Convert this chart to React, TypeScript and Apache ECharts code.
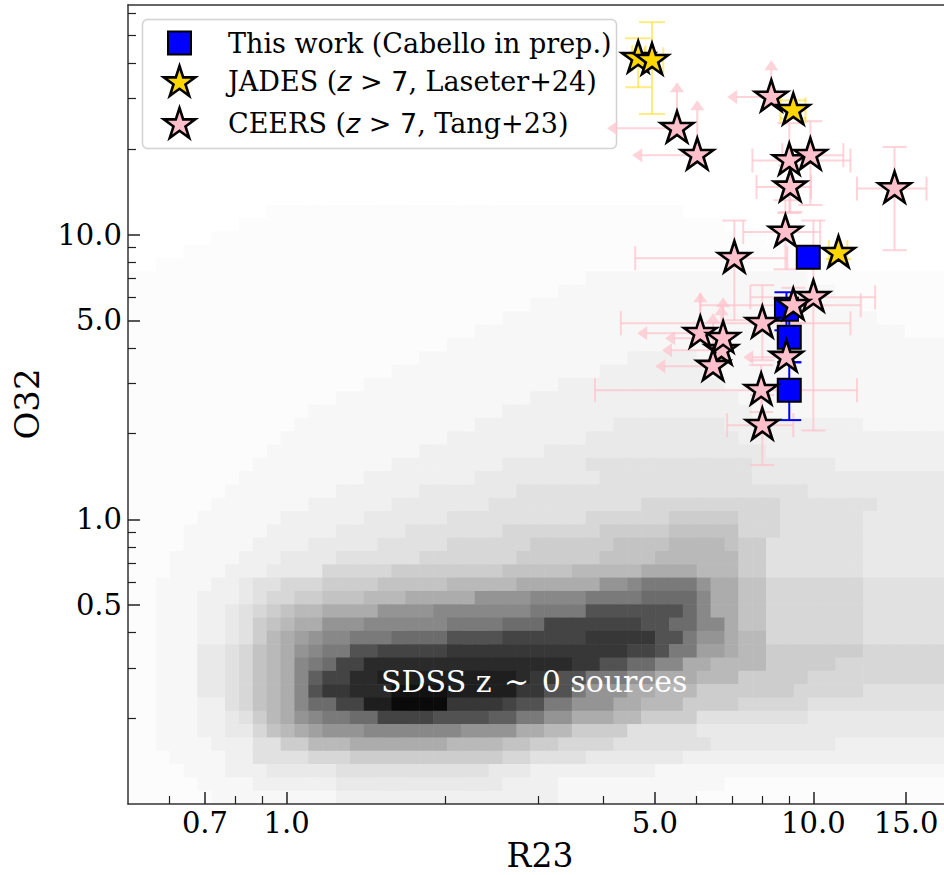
import React, { useEffect, useRef } from "react";
import * as echarts from "echarts";

// ---------------- axes ----------------
const X_MIN = 0.5;
const X_MAX = 17.7;
const Y_MIN = 0.1;
const Y_MAX = 64;
const X_LABEL_TICKS = [0.7, 1.0, 5.0, 10.0, 15.0];
const X_MINOR_TICKS = [0.6, 0.8, 0.9, 2, 3, 4, 6, 7, 8, 9];
const Y_LABEL_TICKS = [0.5, 1.0, 5.0, 10.0];
const Y_MINOR_TICKS = [0.2, 0.3, 0.4, 0.6, 0.7, 0.8, 0.9, 2, 3, 4, 6, 7, 8, 9, 20, 30, 40, 50, 60];

// ---------------- This work ----------------
const THIS_R23 = [9.78, 8.89, 9.0, 9.0];
const THIS_O32 = [8.32, 5.47, 4.36, 2.84];
const THIS_O32_ERR: (number[] | null)[] = [null, [4.61, 6.27], [3.56, 5.21], [2.23, 3.56]];

// ---------------- JADES ----------------
const JADES_R23 = [4.65, 4.94, 9.16, 11.16];
const JADES_O32 = [41.6, 40.9, 27.3, 8.6];
const JADES_R23_ERR = [[4.53, 4.8], [4.78, 5.19], [8.66, 9.66], [10.7, 11.6]];
const JADES_O32_ERR = [[32.9, 48.9], [26.5, 55.7], [25.6, 29.6], [8.2, 9.0]];

// ---------------- CEERS ----------------
const CEERS_R23 = [8.32, 5.51, 6.02, 9.0, 9.87, 9.04, 14.26, 8.85, 7.08, 10.0, 9.16, 8.0, 6.69, 6.1, 6.74, 6.45, 8.89, 7.96, 8.0];
const CEERS_O32 = [30.4, 23.6, 19.0, 18.2, 19.0, 14.7, 14.5, 10.2, 8.26, 6.02, 5.64, 4.88, 3.92, 4.5, 4.32, 3.45, 3.71, 2.84, 2.14];
const CEERS_R23_ERR: (number[] | null)[] = [null, null, null, [7.66, 11.76], [8.73, 11.4], [7.8, 9.9], [12.1, 16.4], [7.36, 10.3], [4.59, 8.92], [7.59, 13.1], [6.1, 12.3], [4.31, 11.76], null, null, null, null, null, [3.85, 12.1], [6.86, 9.16]];
const CEERS_O32_ERR: (number[] | null)[] = [null, null, null, [11.9, 24.6], [12.7, 25.0], [12.0, 17.5], [8.81, 20.3], [7.55, 13.2], [5.0, 11.2], [2.05, 11.2], [4.9, 6.5], [3.62, 6.64], null, null, null, null, null, [2.38, 3.48], [1.55, 2.73]];
const CEERS_R23_UPPER: (number | null)[] = [6.86, 4.06, 4.53, null, null, null, null, null, null, null, null, null, 5.16, 4.63, 5.23, 5.01, 7.36, null, null];
const CEERS_O32_LOWER: (number | null)[] = [40.9, 34.3, 29.6, null, null, null, null, null, null, null, null, null, 5.64, 6.27, 6.02, 5.29, null, null, null];

// ---------------- SDSS 2D histogram (60 x 60 bins, log space), rows top -> bottom ----------------
const HIST_X_RANGE = [0.5, 19];
const HIST_Y_RANGE = [0.1, 64];
const HIST_BINS = 60;
const LEVEL_CHARS = ".0123456789ABCDEFGHIJKLM";
const LEVEL_GREYS = [255, 252, 247, 240, 233, 225, 215, 205, 195, 185, 172, 160, 148, 136, 122, 108, 95, 82, 68, 55, 42, 30, 18, 10];
const HIST_ROWS = [
  ".60", ".60", ".60", ".60", ".60", ".60", ".60", ".60", ".60", ".60",
  ".60", ".60", ".60", ".60", ".60",
  ".10 030 .20",
  ".8 035 .17",
  ".6 040 .14",
  ".4 044 .12",
  ".2 048 .10",
  "033 116 011",
  "031 120 09",
  "029 124 07",
  "027 127 06",
  "025 131 04",
  "023 137",
  "021 115 25 119",
  "019 115 28 118",
  "017 114 212 117",
  "015 114 215 116",
  "013 114 218 115",
  "012 113 210 38 210 17",
  "011 112 210 311 216",
  "010 111 29 316 214",
  "09 110 28 36 412 36 29",
  "08 19 28 39 411 315",
  "07 18 26 37 421 311",
  "06 17 26 37 411 510 47 36",
  "05 16 26 36 410 56 65 53 46 37",
  "04 16 25 35 47 57 65 75 53 46 37",
  "04 15 24 35 45 56 66 74 84 71 62 47 37",
  "03 15 23 34 46 57 66 74 86 62 47 37",
  "03 14 23 34 55 68 75 85 94 83 62 47 37",
  "02 14 22 31 42 53 64 75 85 96 B2 C1 D4 B1 92 72 57 47",
  "02 13 23 31 41 52 62 73 83 95 B4 C4 D4 E4 C1 92 72 57 47",
  "02 13 22 31 41 51 61 71 82 94 B4 C7 D4 G7 E1 C1 92 72 57 47",
  "02 13 22 31 41 61 71 81 92 B3 C6 D4 E3 H7 G2 E2 C2 91 72 57 47",
  "02 13 22 31 41 61 81 91 A1 B1 C2 D3 E4 G4 H6 I5 G2 D1 B2 91 82 57 47",
  "02 13 32 41 51 71 81 91 B1 C1 D2 G2 H5 I13 H2 G1 D2 A2 91 82 67 57",
  "02 13 32 41 51 71 81 91 C1 D1 E1 H2 J15 I2 G2 E2 C2 92 84 65 59",
  "02 13 32 41 51 71 81 91 C1 F1 H2 J2 K10 J1 I2 G2 D3 B2 93 83 65 511",
  "02 13 32 41 51 71 81 91 C1 G1 I2 J3 L4 K5 I2 G2 D1 B3 92 83 67 55 47",
  "02 13 22 41 51 71 81 91 C1 E2 H2 K2 M4 I4 H1 G2 D2 B3 92 83 64 55 411",
  "02 13 22 31 41 61 81 91 B1 C1 D2 E2 H4 G4 F2 D2 B2 93 82 64 48 311",
  "02 13 22 32 51 71 81 91 A1 B3 C7 B4 92 82 64 45 319",
  "02 14 23 42 62 83 97 84 72 62 54 47 39 29",
  "03 14 22 44 53 611 52 44 37 220",
  "04 13 23 35 411 33 29 122",
  "05 14 26 312 24 112 017",
  "06 19 216 110 019",
];

// ---------------- styles ----------------
const SERIF = "'DejaVu Serif', serif";
const SANS = "'DejaVu Sans', sans-serif";
const PINK_ERR = "rgba(255,192,203,0.7)";
const GOLD_ERR = "rgba(255,215,0,0.5)";
const BLUE_ERR = "#0000ff";
const STAR_W = 32.5;
const STAR_R = STAR_W / 1.902;

const L = (v: number) => Math.log10(v);

function decodeRow(s: string): string[] {
  const out: string[] = [];
  for (const tok of s.trim().split(/\s+/)) {
    const ch = tok[0];
    const n = parseInt(tok.slice(1), 10);
    for (let k = 0; k < n; k++) out.push(ch);
  }
  while (out.length < HIST_BINS) out.push(out.length ? out[out.length - 1] : ".");
  return out.slice(0, HIST_BINS);
}

function starPoints(cx: number, cy: number, R: number, r: number): number[][] {
  const pts: number[][] = [];
  for (let k = 0; k < 10; k++) {
    const ang = -Math.PI / 2 + (k * Math.PI) / 5;
    const rad = k % 2 === 0 ? R : r;
    pts.push([cx + rad * Math.cos(ang), cy + rad * Math.sin(ang)]);
  }
  return pts;
}
const STAR_PATH =
  "path://M" +
  starPoints(0, 0, 1, 0.381966)
    .map((p) => p[0].toFixed(4) + "," + p[1].toFixed(4))
    .join("L") +
  "Z";

function buildHist() {
  const hx0 = L(HIST_X_RANGE[0]);
  const hx1 = L(HIST_X_RANGE[1]);
  const hy0 = L(HIST_Y_RANGE[0]);
  const hy1 = L(HIST_Y_RANGE[1]);
  const dx = (hx1 - hx0) / HIST_BINS;
  const dy = (hy1 - hy0) / HIST_BINS;
  const data: number[][] = [];
  HIST_ROWS.forEach((row, j) => {
    decodeRow(row).forEach((ch, i) => {
      if (ch === ".") return;
      const g = LEVEL_GREYS[Math.max(0, LEVEL_CHARS.indexOf(ch))];
      const top = hy1 - j * dy;
      data.push([hx0 + i * dx, top - dy, hx0 + (i + 1) * dx, top, g]);
    });
  });
  return data;
}

type ErrSet = {
  x: number[];
  y: number[];
  xerr?: (number[] | null)[];
  yerr?: (number[] | null)[];
  xup?: (number | null)[];
  ylo?: (number | null)[];
};

function errRender(set: ErrSet, color: string, cap: number) {
  return (params: any, api: any) => {
    const k = api.value(2);
    const x = set.x[k];
    const y = set.y[k];
    const c = api.coord([L(x), L(y)]);
    const st = { stroke: color, lineWidth: 2, fill: null };
    const ch: any[] = [];
    const line = (x1: number, y1: number, x2: number, y2: number) =>
      ch.push({ type: "line", shape: { x1, y1, x2, y2 }, style: st });
    const xe = set.xerr && set.xerr[k];
    if (xe) {
      const a = api.coord([L(xe[0]), L(y)]);
      const b = api.coord([L(xe[1]), L(y)]);
      line(a[0], a[1], b[0], b[1]);
      line(a[0], a[1] - cap, a[0], a[1] + cap);
      line(b[0], b[1] - cap, b[0], b[1] + cap);
    }
    const ye = set.yerr && set.yerr[k];
    if (ye) {
      const a = api.coord([L(x), L(ye[0])]);
      const b = api.coord([L(x), L(ye[1])]);
      line(a[0], a[1], b[0], b[1]);
      line(a[0] - cap, a[1], a[0] + cap, a[1]);
      line(b[0] - cap, b[1], b[0] + cap, b[1]);
    }
    const xu = set.xup && set.xup[k];
    if (xu) {
      const t = api.coord([L(xu), L(y)]);
      line(c[0], c[1], t[0] + 9, t[1]);
      ch.push({
        type: "polygon",
        shape: { points: [[t[0], t[1]], [t[0] + 10, t[1] - 7], [t[0] + 10, t[1] + 7]] },
        style: { fill: color, stroke: null },
      });
    }
    const yl = set.ylo && set.ylo[k];
    if (yl) {
      const t = api.coord([L(x), L(yl)]);
      line(c[0], c[1], t[0], t[1] + 9);
      ch.push({
        type: "polygon",
        shape: { points: [[t[0], t[1]], [t[0] - 7, t[1] + 10], [t[0] + 7, t[1] + 10]] },
        style: { fill: color, stroke: null },
      });
    }
    return { type: "group", children: ch };
  };
}

const fmt = (v: number) => Math.pow(10, v).toFixed(1);

function buildOption() {
  const xmin = L(X_MIN);
  const xmax = L(X_MAX);
  const ymin = L(Y_MIN);
  const ymax = L(Y_MAX);
  const axisLine = { show: true, onZero: false, lineStyle: { color: "#333", width: 1.5 } };
  const noLine = { show: false, onZero: false };

  const starStyle = (fill: string) => ({ color: fill, borderColor: "#000", borderWidth: 2.6, opacity: 1 });

  const legendStar = (cx: number, cy: number, fill: string) => ({
    type: "polygon",
    shape: { points: starPoints(cx, cy, 16.5, 16.5 * 0.381966) },
    style: { fill, stroke: "#000", lineWidth: 2.6 },
  });

  return {
    animation: false,
    backgroundColor: "#fff",
    grid: { left: 128, right: 0, top: 5, bottom: 71, containLabel: false },
    xAxis: [
      {
        type: "value", min: xmin, max: xmax, position: "bottom", z: 20,
        axisLine,
        axisTick: { show: true, inside: true, length: 12, lineStyle: { color: "#222", width: 1.5 }, customValues: X_LABEL_TICKS.map(L) },
        axisLabel: { show: true, customValues: X_LABEL_TICKS.map(L), formatter: fmt, fontFamily: SERIF, fontSize: 29, color: "#000", margin: 4 },
        splitLine: { show: false },
      },
      {
        type: "value", min: xmin, max: xmax, position: "bottom", z: 20,
        axisLine: noLine,
        axisTick: { show: true, inside: true, length: 8, lineStyle: { color: "#222", width: 1.2 }, customValues: X_MINOR_TICKS.map(L) },
        axisLabel: { show: false },
        splitLine: { show: false },
      },
      {
        type: "value", min: xmin, max: xmax, position: "top", z: 20,
        axisLine,
        axisTick: { show: false },
        axisLabel: { show: false },
        splitLine: { show: false },
      },
    ],
    yAxis: [
      {
        type: "value", min: ymin, max: ymax, position: "left", z: 20,
        axisLine,
        axisTick: { show: true, inside: true, length: 12, lineStyle: { color: "#222", width: 1.5 }, customValues: Y_LABEL_TICKS.map(L) },
        axisLabel: { show: true, customValues: Y_LABEL_TICKS.map(L), formatter: fmt, fontFamily: SERIF, fontSize: 29, color: "#000", margin: 6 },
        splitLine: { show: false },
      },
      {
        type: "value", min: ymin, max: ymax, position: "left", z: 20,
        axisLine: noLine,
        axisTick: { show: true, inside: true, length: 8, lineStyle: { color: "#222", width: 1.2 }, customValues: Y_MINOR_TICKS.map(L) },
        axisLabel: { show: false },
        splitLine: { show: false },
      },
    ],
    series: [
      {
        type: "custom", name: "SDSS", silent: true, clip: true, z: 1,
        encode: { x: [0, 2], y: [1, 3] },
        data: buildHist(),
        renderItem: (params: any, api: any) => {
          const p0 = api.coord([api.value(0), api.value(3)]);
          const p1 = api.coord([api.value(2), api.value(1)]);
          const g = api.value(4);
          return {
            type: "rect",
            shape: { x: p0[0], y: p0[1], width: p1[0] - p0[0] + 0.6, height: p1[1] - p0[1] + 0.6 },
            style: { fill: `rgb(${g},${g},${g})`, stroke: null },
          };
        },
      },
      {
        type: "custom", name: "CEERS err", silent: true, clip: true, z: 2,
        encode: { x: 0, y: 1 },
        data: CEERS_R23.map((v, k) => [L(v), L(CEERS_O32[k]), k]),
        renderItem: errRender({ x: CEERS_R23, y: CEERS_O32, xerr: CEERS_R23_ERR, yerr: CEERS_O32_ERR, xup: CEERS_R23_UPPER, ylo: CEERS_O32_LOWER }, PINK_ERR, 12),
      },
      {
        type: "custom", name: "JADES err", silent: true, clip: true, z: 2,
        encode: { x: 0, y: 1 },
        data: JADES_R23.map((v, k) => [L(v), L(JADES_O32[k]), k]),
        renderItem: errRender({ x: JADES_R23, y: JADES_O32, xerr: JADES_R23_ERR, yerr: JADES_O32_ERR }, GOLD_ERR, 13),
      },
      {
        type: "custom", name: "This work err", silent: true, clip: true, z: 3,
        encode: { x: 0, y: 1 },
        data: THIS_R23.map((v, k) => [L(v), L(THIS_O32[k]), k]),
        renderItem: errRender({ x: THIS_R23, y: THIS_O32, yerr: THIS_O32_ERR }, BLUE_ERR, 12),
      },
      {
        type: "scatter", name: "This work (Cabello in prep.)", silent: true, z: 4,
        symbol: "rect", symbolSize: 23,
        itemStyle: { color: "#0000ff", borderColor: "#000", borderWidth: 2, opacity: 1 },
        data: THIS_R23.map((v, k) => [L(v), L(THIS_O32[k])]),
      },
      {
        type: "scatter", name: "CEERS (z > 7, Tang+23)", silent: true, z: 5,
        symbol: STAR_PATH, symbolSize: [STAR_W, STAR_W * 1.809 / 1.902], symbolOffset: [0, -0.0955 * STAR_R],
        itemStyle: starStyle("#ffc0cb"),
        data: CEERS_R23.map((v, k) => [L(v), L(CEERS_O32[k])]),
      },
      {
        type: "scatter", name: "JADES (z > 7, Laseter+24)", silent: true, z: 6,
        symbol: STAR_PATH, symbolSize: [STAR_W, STAR_W * 1.809 / 1.902], symbolOffset: [0, -0.0955 * STAR_R],
        itemStyle: starStyle("#ffd700"),
        data: JADES_R23.map((v, k) => [L(v), L(JADES_O32[k])]),
      },
    ],
    graphic: [
      {
        type: "text", x: 381, y: 681, z: 50, silent: true,
        style: { text: "SDSS z \u200A\u223C\u200A 0 sources", fill: "#fff", fontFamily: SERIF, fontSize: 30, align: "left", verticalAlign: "middle" },
      },
      {
        type: "text", x: 540, y: 855, silent: true,
        style: { text: "R23", fill: "#000", fontFamily: SERIF, fontSize: 33, align: "center", verticalAlign: "middle" },
      },
      {
        type: "text", x: 27, y: 404, rotation: Math.PI / 2, silent: true,
        style: { text: "O32", fill: "#000", fontFamily: SERIF, fontSize: 34, align: "center", verticalAlign: "middle" },
      },
      {
        type: "group", z: 100, silent: true,
        children: [
          {
            type: "rect",
            shape: { x: 142.5, y: 19.5, width: 474, height: 129, r: 5 },
            style: { fill: "rgba(255,255,255,0.85)", stroke: "#d2d2d2", lineWidth: 1.5 },
          },
          {
            type: "rect",
            shape: { x: 168, y: 31.5, width: 23, height: 23 },
            style: { fill: "#0000ff", stroke: "#000", lineWidth: 2 },
          },
          legendStar(179.5, 82.5, "#ffd700"),
          legendStar(179.5, 124.5, "#ffc0cb"),
          {
            type: "text", x: 228, y: 43,
            style: { text: "This work (Cabello in prep.)", fill: "#000", fontFamily: SERIF, fontSize: 27, align: "left", verticalAlign: "middle" },
          },
          {
            type: "text", x: 228, y: 81,
            style: {
              text: "{a|JADES (}{i|z}{s| > 7}{a|, Laseter+24)}",
              align: "left", verticalAlign: "middle",
              rich: {
                a: { fontFamily: SERIF, fontSize: 27, fill: "#000" },
                i: { fontFamily: SANS, fontStyle: "italic", fontSize: 27, fill: "#000" },
                s: { fontFamily: SANS, fontSize: 27, fill: "#000" },
              },
            },
          },
          {
            type: "text", x: 228, y: 123,
            style: {
              text: "{a|CEERS (}{i|z}{s| > 7}{a|, Tang+23)}",
              align: "left", verticalAlign: "middle",
              rich: {
                a: { fontFamily: SERIF, fontSize: 27, fill: "#000" },
                i: { fontFamily: SANS, fontStyle: "italic", fontSize: 27, fill: "#000" },
                s: { fontFamily: SANS, fontSize: 27, fill: "#000" },
              },
            },
          },
        ],
      },
    ],
  };
}

export default function App() {
  const ref = useRef<HTMLDivElement>(null);
  useEffect(() => {
    if (!ref.current) return;
    const chart = echarts.init(ref.current, null, { renderer: "svg" });
    chart.setOption(buildOption() as any);
    return () => chart.dispose();
  }, []);
  return (
    <div
      ref={ref}
      style={{ position: "fixed", left: 0, top: 0, width: 944, height: 875, background: "#fff" }}
    />
  );
}
